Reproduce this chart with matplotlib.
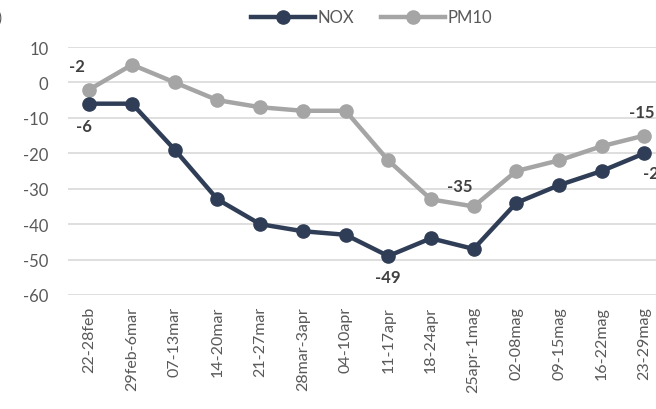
import matplotlib
matplotlib.use("Agg")
import matplotlib.pyplot as plt

categories = ["22-28feb", "29feb-6mar", "07-13mar", "14-20mar", "21-27mar", "28mar-3apr",
              "04-10apr", "11-17apr", "18-24apr", "25apr-1mag", "02-08mag", "09-15mag",
              "16-22mag", "23-29mag"]
nox = [-6, -6, -19, -33, -40, -42, -43, -49, -44, -47, -34, -29, -25, -20]
pm10 = [-2, 5, 0, -5, -7, -8, -8, -22, -33, -35, -25, -22, -18, -15]
yticks = [10, 0, -10, -20, -30, -40, -50, -60]

plt.rcParams['font.family'] = ['Lato', 'DejaVu Sans']
plt.rcParams['axes.unicode_minus'] = False
NOX_C = "#2F3E56"
PM_C = "#A5A5A5"
TXT = "#595959"
LBL = "#404040"

fig = plt.figure(figsize=(6.56, 4.10), dpi=100)
W, H = 656, 410
x0, x1 = 68, 68 + 14 * 42.7
ytop, ybot = 48, 296
ax = fig.add_axes([x0 / W, 1 - ybot / H, (x1 - x0) / W, (ybot - ytop) / H])

x = list(range(len(categories)))
ax.plot(x, nox, color=NOX_C, lw=3.2, marker='o', ms=9.5, label="NOX", zorder=3)
ax.plot(x, pm10, color=PM_C, lw=3.2, marker='o', ms=9.5, label="PM10", zorder=2)

ax.set_xlim(-0.5, len(categories) - 0.5)
ax.set_ylim(-60, 10)
ax.set_yticks(yticks)
ax.set_xticks(x)
ax.set_xticklabels(categories, rotation=90, fontsize=11.5, color=TXT)
ax.tick_params(axis='y', labelsize=12, labelcolor=TXT, length=0, pad=14)
ax.tick_params(axis='x', length=0, pad=8)
for s in ax.spines.values():
    s.set_visible(False)
ax.grid(axis='y', color="#D9D9D9", lw=1.2)
ax.set_axisbelow(True)

def lab(i, series, dy, dx=0):
    ax.annotate(str(series[i]), (i, series[i]), xytext=(dx, dy), textcoords='offset points',
                ha='center', va='center', fontsize=12, fontweight='bold', color=LBL,
                annotation_clip=False)

lab(0, pm10, 17, -9)
lab(0, nox, -16, -4)
lab(7, nox, -15, 0)
lab(9, pm10, 15, -10)
lab(13, pm10, 17, -2)
lab(13, nox, -14, 8)

leg = fig.legend(loc='center', bbox_to_anchor=(0.567, 0.955), ncol=2, frameon=False,
                 fontsize=12, handlelength=3.8, columnspacing=1.6, handletextpad=0.2)
for t in leg.get_texts():
    t.set_color(TXT)

fig.text(-0.004, 0.955, ")", fontsize=11, color=TXT, ha='left', va='center')

fig.savefig("out.png", dpi=100)
